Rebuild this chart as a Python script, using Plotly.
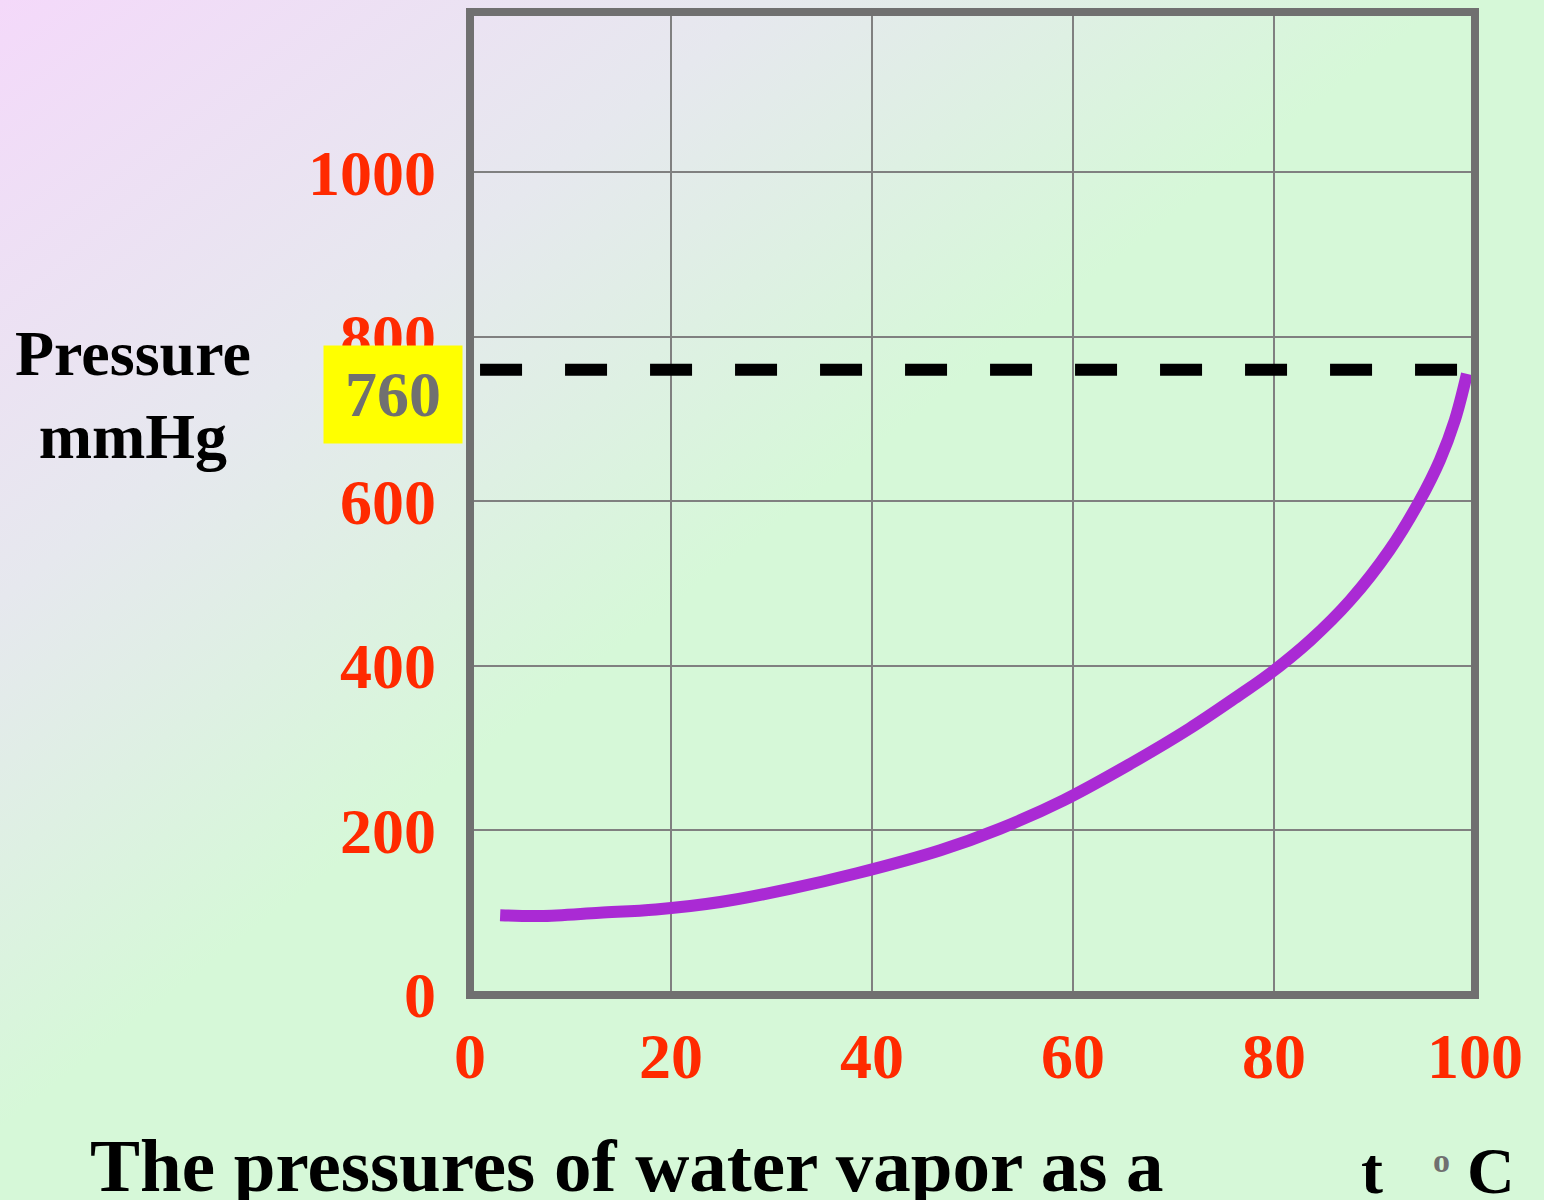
import base64
import plotly.graph_objects as go

# ---- data ----
temps = [3, 7, 12.9, 18.5, 24.9, 31.8, 38.5, 46.8, 52.7, 59.1, 65.7, 71.6,
         76.6, 79.3, 83.6, 87.6, 91.5, 94.5, 96.5, 98, 99.2]
pressures = [97, 96, 100, 104, 113, 129, 148, 176, 202, 237, 281, 324,
             365, 388, 431, 480, 541, 601, 650, 699, 755]
x_ticks = [0, 20, 40, 60, 80, 100]
y_ticks = [0, 200, 400, 600, 800, 1000]
ref_level = 760
ref_label = "760"
y_title = "Pressure<br>mmHg"
bottom_text = "The pressures of water vapor as a"

W, H = 1544, 1200
SERIF = "Liberation Serif"
RED = "#FF2A00"

# background gradient (diagonal, pink -> green)
svg = (
    "<svg xmlns='http://www.w3.org/2000/svg' width='1544' height='1200' preserveAspectRatio='none'>"
    "<defs><linearGradient id='g' x1='0' y1='0' x2='1' y2='1'>"
    "<stop offset='0' stop-color='#F4D9FA'/>"
    "<stop offset='0.25' stop-color='#E6E8EE'/>"
    "<stop offset='0.47' stop-color='#D6F8D8'/>"
    "<stop offset='1' stop-color='#D6F8D8'/>"
    "</linearGradient></defs><rect width='1544' height='1200' fill='url(#g)'/></svg>"
)
bg_src = "data:image/svg+xml;base64," + base64.b64encode(svg.encode()).decode()

fig = go.Figure()
fig.add_trace(go.Scatter(
    x=temps, y=pressures, mode="lines",
    line=dict(color="#AA2AD4", width=12, shape="spline"),
    hoverinfo="skip", showlegend=False,
))

x0d, x1d = 470 / W, 1475 / W
y0d, y1d = 1 - 995 / H, 1 - 12 / H

fig.update_layout(
    width=W, height=H,
    margin=dict(l=0, r=0, t=0, b=0, pad=0),
    paper_bgcolor="#D6F8D8",
    plot_bgcolor="rgba(0,0,0,0)",
    images=[dict(source=bg_src, xref="paper", yref="paper", x=0, y=1,
                 sizex=1, sizey=1, sizing="stretch", layer="below")],
    xaxis=dict(
        domain=[x0d, x1d], range=[0, 100], tickvals=x_ticks, automargin=False,
        showgrid=True, gridcolor="#808080", gridwidth=2, zeroline=False,
        showline=False, ticks="", ticklabelstandoff=18,
        tickfont=dict(family=SERIF, size=64, color=RED, weight="bold"),
    ),
    yaxis=dict(
        domain=[y0d, y1d], range=[0, 1195], tickvals=y_ticks, automargin=False,
        showgrid=True, gridcolor="#808080", gridwidth=2, zeroline=False,
        showline=False, ticks="", ticklabelstandoff=33,
        tickfont=dict(family=SERIF, size=64, color=RED, weight="bold"),
    ),
    shapes=[
        dict(type="line", xref="x domain", yref="y", x0=0.01, x1=0.985,
             y0=ref_level, y1=ref_level,
             line=dict(color="black", width=12, dash="42px,43px")),
        dict(type="rect", xref="x domain", yref="y domain", x0=0, x1=1, y0=0, y1=1,
             line=dict(color="#707070", width=8), layer="above"),
    ],
)

annotations = [
    dict(text=ref_label, xref="paper", yref="y", x=393 / W, y=ref_level,
         xanchor="center", yanchor="middle",
         yshift=-25, showarrow=False, width=136, height=95,
         bgcolor="#FFFF00", font=dict(family=SERIF, size=64, color="#707070", weight="bold")),
    dict(text=y_title, xref="paper", yref="paper", x=133 / W, y=1 - 395 / H,
         xanchor="center", yanchor="middle", showarrow=False,
         font=dict(family=SERIF, size=64, color="black", weight="bold")),
    dict(text=bottom_text, xref="paper", yref="paper", x=88 / W, y=1 - 1165 / H,
         xanchor="left", yanchor="middle", showarrow=False,
         font=dict(family=SERIF, size=75, color="black", weight="bold")),
    dict(text="t", xref="paper", yref="paper", x=1372 / W, y=1 - 1170 / H,
         xanchor="center", yanchor="middle", showarrow=False,
         font=dict(family=SERIF, size=66, color="black", weight="bold")),
    dict(text="o", xref="paper", yref="paper", x=1441 / W, y=1 - 1160 / H,
         xanchor="center", yanchor="middle", showarrow=False,
         font=dict(family=SERIF, size=34, color="#707070", weight="bold")),
    dict(text="C", xref="paper", yref="paper", x=1491 / W, y=1 - 1170 / H,
         xanchor="center", yanchor="middle", showarrow=False,
         font=dict(family=SERIF, size=66, color="black", weight="bold")),
]
fig.update_layout(annotations=annotations)

fig.write_html(
    "out.html",
    config={"displayModeBar": False},
    post_script="document.body.style.margin='0';document.body.style.overflow='hidden';",
)
